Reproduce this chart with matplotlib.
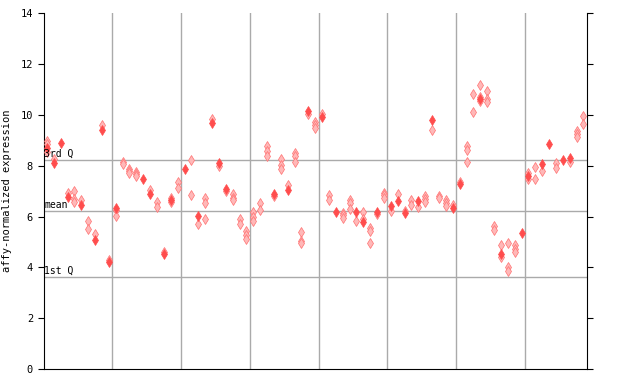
import matplotlib
matplotlib.use("Agg")
import matplotlib.pyplot as plt
import numpy as np

# expression values per sample column (hatched = replicates, solid = highlighted)
hatched_vals = [
    [8.98, 8.85, 8.55], [8.27], [], [6.92], [7.02, 6.68, 6.56],
    [6.65], [5.81, 5.5], [5.31], [9.6], [4.29],
    [6.26, 6.01], [8.16, 8.07], [7.87, 7.8, 7.7], [7.77, 7.68, 7.59], [],
    [7.03], [6.57, 6.36], [4.59], [6.72, 6.56], [7.36, 7.11],
    [], [8.21, 6.84], [5.7], [6.72, 6.52, 5.89], [9.83],
    [8.0], [7.0], [6.91, 6.74, 6.64], [5.9, 5.72], [5.42, 5.26, 5.1],
    [6.2, 5.98, 5.83], [6.52, 6.25], [8.78, 8.57, 8.37], [6.81], [8.25, 8.04, 7.86],
    [7.23], [8.52, 8.39, 8.15], [5.38, 5.05, 4.97], [10.04], [9.74, 9.61, 9.48],
    [10.04], [6.84, 6.64], [], [6.15, 6.05, 5.94], [6.64, 6.55, 6.32],
    [5.83], [6.17, 5.89], [5.56, 5.42, 4.95], [6.1], [6.95, 6.84, 6.72],
    [6.23], [6.88], [6.23], [6.64, 6.46], [6.36],
    [6.81, 6.69, 6.59], [9.4], [6.81, 6.72], [6.64, 6.52, 6.42], [6.46],
    [7.36], [8.8, 8.61, 8.14], [10.81, 10.1], [11.17, 10.7, 10.55], [10.93, 10.62, 10.52],
    [5.65, 5.46], [4.87, 4.42], [4.95, 4.0, 3.86], [4.87, 4.74, 4.59], [],
    [7.7, 7.48], [7.94, 7.47], [7.78], [], [8.1, 7.9],
    [], [8.15], [9.37, 9.25, 9.15], [9.97, 9.65],
]
solid_vals = [
    [8.72], [8.1], [8.91], [6.78], [],
    [6.47], [], [5.09], [9.41], [4.21],
    [6.35], [], [], [], [7.49],
    [6.9], [], [4.51], [6.65], [],
    [7.88], [], [6.04], [], [9.7],
    [8.12], [7.1], [], [], [],
    [], [], [], [6.91], [],
    [7.06], [], [], [10.17], [],
    [9.93], [], [6.19], [], [],
    [6.19], [5.8], [], [6.19], [],
    [6.43], [6.63], [6.15], [], [6.63],
    [], [9.8], [], [], [6.34],
    [7.3], [], [], [10.62], [],
    [], [4.51], [], [], [5.35],
    [7.6], [], [8.08], [8.86], [],
    [8.24], [8.32], [], [],
]
q1, mean_val, q3 = 3.62, 6.22, 8.22
group_edges = [10, 20, 30, 40, 50, 60, 70]
n_cols = len(hatched_vals)

fig = plt.figure(figsize=(6.4, 3.84), dpi=100)
ax = fig.add_axes([0.068, 0.039, 0.849, 0.926])
mono = "DejaVu Sans Mono"

for x in group_edges:
    ax.axvline(x, color="#aaaaaa", lw=1, zorder=1)
for y in (q1, mean_val, q3):
    ax.axhline(y, color="#aaaaaa", lw=1, zorder=1)

hx, hy, sx, sy = [], [], [], []
for i in range(n_cols):
    for v in hatched_vals[i]:
        hx.append(i + 0.5)
        hy.append(v)
    for v in solid_vals[i]:
        sx.append(i + 0.5)
        sy.append(v)

ax.plot(hx, hy, "d", ms=5, mfc="#ffb8b8", mec="#ff7070", mew=0.5, ls="none", zorder=3)
ax.plot(sx, sy, "d", ms=5, mfc="#ff4d4d", mec="#ff4d4d", mew=0.5, ls="none", zorder=4)

for y, lab in ((q3, "3rd Q"), (mean_val, "mean"), (q1, "1st Q")):
    ax.text(0.1, y + 0.05, lab, fontsize=7, family=mono, ha="left", va="bottom", zorder=5)

ax.set_xlim(0, n_cols)
ax.set_ylim(0, 14)
ax.set_yticks(np.arange(0, 15, 2))
ax.set_yticklabels([str(t) for t in range(0, 15, 2)], family=mono, fontsize=7.5)
ax.set_xticks([])
ax.tick_params(axis="y", which="both", direction="out", length=4, right=True, labelright=False)
ax.spines["top"].set_visible(False)
ax.set_ylabel("affy-normalized expression", family=mono, fontsize=7.5, labelpad=6)

fig.savefig("out.png", dpi=100)
